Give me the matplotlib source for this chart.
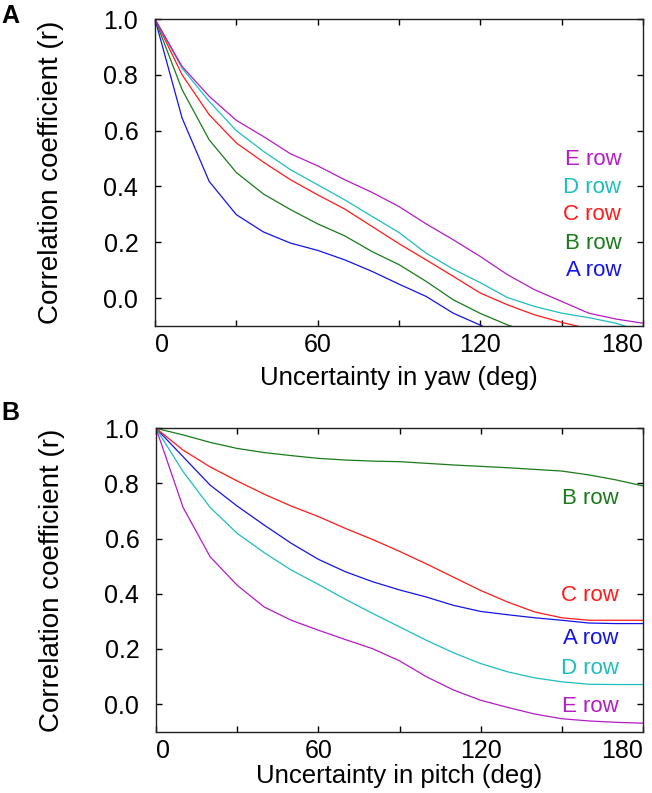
#!/usr/bin/env python3
"""Correlation vs. orientation uncertainty, yaw (A) and pitch (B)."""

import matplotlib

matplotlib.use("Agg")
import matplotlib.pyplot as plt

plt.rcParams["font.family"] = ["Liberation Sans", "DejaVu Sans"]

UNCERTAINTY = [0, 10, 20, 30, 40, 50, 60, 70, 80, 90,
               100, 110, 120, 130, 140, 150, 160, 170, 180]

ROWS = ["A row", "B row", "C row", "D row", "E row"]
ROW_COLORS = {
    "A row": "#1414e6",
    "B row": "#1a7a1a",
    "C row": "#ff1a1a",
    "D row": "#1fbdbd",
    "E row": "#b41cc4",
}

# panel A: uncertainty in yaw (curves run below the axis floor and get clipped)
YAW = {
    "A row": [1.0, 0.645, 0.418, 0.299, 0.237, 0.197, 0.171, 0.137, 0.096, 0.050,
              0.006, -0.054, -0.097, -0.14, -0.18, -0.21, -0.24, -0.26, -0.28],
    "B row": [1.0, 0.747, 0.567, 0.450, 0.373, 0.317, 0.266, 0.223, 0.167, 0.120,
              0.060, -0.006, -0.055, -0.096, -0.13, -0.16, -0.19, -0.21, -0.23],
    "C row": [1.0, 0.800, 0.657, 0.556, 0.487, 0.424, 0.370, 0.319, 0.257, 0.195,
              0.137, 0.078, 0.018, -0.024, -0.060, -0.087, -0.11, -0.13, -0.15],
    "D row": [1.0, 0.824, 0.705, 0.600, 0.526, 0.460, 0.406, 0.352, 0.293, 0.235,
              0.161, 0.104, 0.055, 0.002, -0.030, -0.054, -0.070, -0.090, -0.12],
    "E row": [1.0, 0.830, 0.723, 0.637, 0.579, 0.517, 0.474, 0.424, 0.379, 0.328,
              0.266, 0.209, 0.149, 0.084, 0.030, -0.012, -0.054, -0.075, -0.090],
}

# panel B: uncertainty in pitch
PITCH = {
    "A row": [1.0, 0.897, 0.794, 0.718, 0.649, 0.583, 0.525, 0.480, 0.444, 0.414,
              0.388, 0.358, 0.336, 0.324, 0.313, 0.304, 0.294, 0.292, 0.292],
    "B row": [1.0, 0.976, 0.949, 0.927, 0.912, 0.901, 0.891, 0.885, 0.881, 0.879,
              0.873, 0.867, 0.862, 0.857, 0.851, 0.845, 0.831, 0.813, 0.791],
    "C row": [1.0, 0.921, 0.860, 0.809, 0.761, 0.718, 0.680, 0.637, 0.597, 0.554,
              0.508, 0.460, 0.412, 0.370, 0.334, 0.313, 0.304, 0.304, 0.304],
    "D row": [1.0, 0.843, 0.713, 0.619, 0.549, 0.486, 0.434, 0.380, 0.329, 0.280,
              0.231, 0.186, 0.147, 0.117, 0.095, 0.081, 0.072, 0.071, 0.071],
    "E row": [1.0, 0.713, 0.534, 0.431, 0.352, 0.304, 0.268, 0.234, 0.201, 0.157,
              0.099, 0.051, 0.014, -0.012, -0.036, -0.053, -0.061, -0.066, -0.069],
}

# label positions (y in data units) for the row names inside each panel
YAW_LABEL_Y = {"E row": 0.496, "D row": 0.397, "C row": 0.299,
               "B row": 0.197, "A row": 0.099}
PITCH_LABEL_Y = {"B row": 0.744, "C row": 0.395, "A row": 0.239,
                 "D row": 0.130, "E row": -0.007}

X_TICKS = [0, 30, 60, 90, 120, 150, 180]
X_TICK_LABELS = ["0", "", "60", "", "120", "", "180"]
Y_TICKS = [0.0, 0.2, 0.4, 0.6, 0.8, 1.0]


def style_axis(axis, xlabel, xlabel_y):
    axis.set_xlim(0, 180)
    axis.set_ylim(-0.1, 1.0)
    axis.set_xticks(X_TICKS)
    axis.set_xticklabels(X_TICK_LABELS)
    axis.set_yticks(Y_TICKS)
    axis.set_yticklabels([f"{v:.1f}" for v in Y_TICKS])
    axis.tick_params(direction="in", top=True, right=True, length=4,
                     width=1.0, labelsize=18)
    axis.tick_params(axis="x", pad=5)
    axis.tick_params(axis="y", pad=12)
    labels = axis.get_xticklabels()
    labels[0].set_horizontalalignment("left")
    labels[-1].set_horizontalalignment("right")
    for spine in axis.spines.values():
        spine.set_linewidth(1.0)
        spine.set_color("#222222")
    axis.set_xlabel(xlabel, fontsize=18.5)
    axis.xaxis.set_label_coords(0.5, xlabel_y)
    axis.set_ylabel("Correlation coefficient (r)", fontsize=20)
    axis.yaxis.label.set_verticalalignment("center")
    axis.yaxis.set_label_coords(-0.213, 0.5)


def main():
    figure = plt.figure(figsize=(6.52, 7.93), dpi=100)
    axis_a = figure.add_axes([0.2377, 0.5889, 0.7485, 0.3871])
    axis_b = figure.add_axes([0.2393, 0.0773, 0.7469, 0.3826])

    for row in ROWS:
        axis_a.plot(UNCERTAINTY, YAW[row], color=ROW_COLORS[row], linewidth=0.9)
        axis_a.text(172, YAW_LABEL_Y[row], row, color=ROW_COLORS[row],
                    fontsize=16, ha="right", va="center")
        axis_b.plot(UNCERTAINTY, PITCH[row], color=ROW_COLORS[row], linewidth=0.9)
        axis_b.text(171, PITCH_LABEL_Y[row], row, color=ROW_COLORS[row],
                    fontsize=16, ha="right", va="center")

    style_axis(axis_a, "Uncertainty in yaw (deg)", -0.13)
    style_axis(axis_b, "Uncertainty in pitch (deg)", -0.108)

    figure.text(0.002, 0.995, "A", fontsize=18, fontweight="bold",
                ha="left", va="top")
    figure.text(0.002, 0.494, "B", fontsize=18, fontweight="bold",
                ha="left", va="top")

    figure.savefig("out.png", dpi=100, facecolor="white")
    plt.close(figure)


if __name__ == "__main__":
    main()
